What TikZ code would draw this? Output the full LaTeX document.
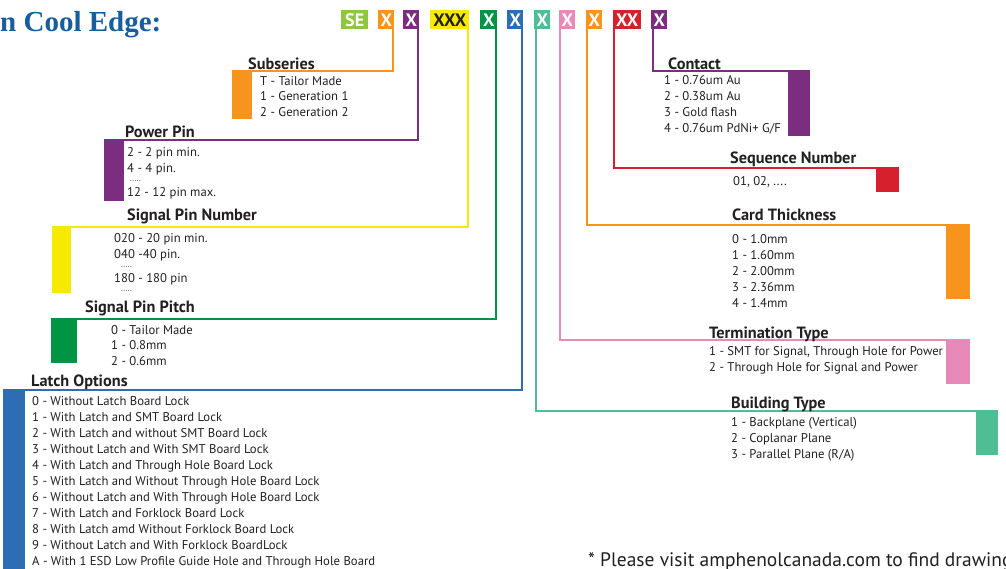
\documentclass[tikz,border=0pt]{standalone}
\usepackage{fontspec}
\setmainfont{PT Sans}
\newfontfamily\headfont{Liberation Serif}

\definecolor{LimeCode}{RGB}{141,198,63}
\definecolor{OrangeCode}{RGB}{247,148,29}
\definecolor{PurpleCode}{RGB}{123,45,127}
\definecolor{YellowCode}{RGB}{245,234,0}
\definecolor{GreenCode}{RGB}{0,148,68}
\definecolor{BlueCode}{RGB}{46,109,180}
\definecolor{TealCode}{RGB}{80,190,148}
\definecolor{PinkCode}{RGB}{231,138,185}
\definecolor{RedCode}{RGB}{215,32,46}
\definecolor{HeadBlue}{RGB}{22,94,158}
\definecolor{InkGrey}{RGB}{35,31,32}

\begin{document}
\begin{tikzpicture}[x=1pt,y=-1pt,
    codebox/.style={anchor=north west,inner sep=0pt,minimum height=19pt,text=white,
      font=\fontsize{18}{18}\selectfont\bfseries},
    tab/.style={anchor=north west,inner sep=0pt,fill=#1},
    link/.style={line width=2pt,#1},
    head/.style={anchor=base west,inner sep=0pt,text=InkGrey,font=\fontsize{16.3}{18}\selectfont\bfseries},
    item/.style={anchor=base west,inner sep=0pt,text=InkGrey,font=\fontsize{12.7}{16}\selectfont},
    dots/.style={anchor=base west,inner sep=0pt,text=InkGrey,font=\fontsize{8}{8}\selectfont}]

  \useasboundingbox (0,0) rectangle (1006,568);

  \node[anchor=base west,inner sep=0pt,text=HeadBlue,font=\headfont\bfseries\fontsize{29}{30}\selectfont]
    (heading) at (0,31) {n Cool Edge:};

  \node[codebox,fill=LimeCode,minimum width=27pt] (cSE) at (341,10) {SE};
  \node[codebox,fill=OrangeCode,minimum width=16pt] (cSub) at (378,10) {X};
  \node[codebox,fill=PurpleCode,minimum width=16pt] (cPow) at (403,10) {X};
  \node[codebox,fill=YellowCode,minimum width=39pt,text=InkGrey] (cSig) at (430,10) {XXX};
  \node[codebox,fill=GreenCode,minimum width=17pt] (cPitch) at (480,10) {X};
  \node[codebox,fill=BlueCode,minimum width=16pt] (cLatch) at (507,10) {X};
  \node[codebox,fill=TealCode,minimum width=16pt] (cBuild) at (534,10) {X};
  \node[codebox,fill=PinkCode,minimum width=16pt] (cTerm) at (559,10) {X};
  \node[codebox,fill=OrangeCode,minimum width=16pt] (cCard) at (586,10) {X};
  \node[codebox,fill=RedCode,minimum width=28pt] (cSeq) at (613,10) {XX};
  \node[codebox,fill=PurpleCode,minimum width=16pt] (cCont) at (651,10) {X};

  \node[tab=OrangeCode,minimum width=20pt,minimum height=49pt] (tSub) at (232,70) {};
  \draw[link=OrangeCode] ([xshift=-1.5pt]cSub.south east) |- ([yshift=-1pt]tSub.north west);
  \node[head] (hSub) at (248,69) {Subseries};
  \node[item] (sub0) at (260,85) {T - Tailor Made};
  \node[item] (sub1) at (260,100.5) {1 - Generation 1};
  \node[item] (sub2) at (260,116) {2 - Generation 2};

  \node[tab=PurpleCode,minimum width=20pt,minimum height=62pt] (tPow) at (104,139) {};
  \draw[link=PurpleCode] ([xshift=-1pt]cPow.south east) |- ([yshift=-1pt]tPow.north west);
  \node[head] (hPow) at (125,137) {Power Pin};
  \node[item] (pow0) at (127,156) {2 - 2 pin min.};
  \node[item] (pow1) at (127,172) {4 - 4 pin.};
  \node[dots] (powDots) at (130,181) {.....};
  \node[item] (pow2) at (127,196) {12 - 12 pin max.};

  \node[tab=YellowCode,minimum width=19pt,minimum height=67pt] (tSig) at (52,226) {};
  \draw[link=YellowCode] ([xshift=-1pt]cSig.south east) |- ([yshift=-1pt]tSig.north west);
  \node[head] (hSig) at (127,220.5) {Signal Pin Number};
  \node[item] (sig0) at (114,242.5) {020 - 20 pin min.};
  \node[item] (sig1) at (114,258.5) {040 -40 pin.};
  \node[dots] (sigDots1) at (121,267.5) {.....};
  \node[item] (sig2) at (114,282.5) {180 - 180 pin};
  \node[dots] (sigDots2) at (121,291.5) {.....};

  \node[tab=GreenCode,minimum width=26pt,minimum height=45pt] (tPitch) at (51,318) {};
  \draw[link=GreenCode] ([xshift=-1pt]cPitch.south east) |- ([yshift=-1pt]tPitch.north west);
  \node[head] (hPitch) at (85,312.5) {Signal Pin Pitch};
  \node[item] (pitch0) at (111,334) {0 - Tailor Made};
  \node[item] (pitch1) at (111,349.5) {1 - 0.8mm};
  \node[item] (pitch2) at (111,365) {2 - 0.6mm};

  \node[tab=BlueCode,minimum width=22pt,minimum height=180pt] (tLatch) at (3,389) {};
  \draw[link=BlueCode] ([xshift=-1pt]cLatch.south east) |- ([yshift=-1pt]tLatch.north west);
  \node[head] (hLatch) at (31,386) {Latch Options};
  \foreach \txt [count=\k from 0] in {0 - Without Latch Board Lock,
      1 - With Latch and SMT Board Lock,
      2 - With Latch and without SMT Board Lock,
      3 - Without Latch and With SMT Board Lock,
      4 - With Latch and Through Hole Board Lock,
      5 - With Latch and Without Through Hole Board Lock,
      6 - Without Latch and With Through Hole Board Lock,
      7 - With Latch and Forklock Board Lock,
      8 - With Latch amd Without Forklock Board Lock,
      9 - Without Latch and With Forklock BoardLock,
      A - With 1 ESD Low Profile Guide Hole and Through Hole Board}
    \node[item] (latch\k) at (32,405.7+16*\k) {\txt};

  \node[tab=PurpleCode,minimum width=22pt,minimum height=66pt] (tCont) at (788,70) {};
  \draw[link=PurpleCode] ([xshift=1.5pt]cCont.south west) |- ([yshift=-1pt]tCont.north east);
  \node[head] (hCont) at (668,69) {Contact};
  \node[item] (cont0) at (664,84.3) {1 - 0.76um Au};
  \node[item] (cont1) at (664,100.3) {2 - 0.38um Au};
  \node[item] (cont2) at (664,116.3) {3 - Gold flash};
  \node[item] (cont3) at (664,132.3) {4 - 0.76um PdNi+ G/F};

  \node[tab=RedCode,minimum width=23pt,minimum height=25pt] (tSeq) at (876,167) {};
  \draw[link=RedCode] ([xshift=1pt]cSeq.south west) |- ([yshift=-1pt]tSeq.north east);
  \node[head] (hSeq) at (730,163) {Sequence Number};
  \node[item] (seq0) at (733,185.7) {01, 02, ....};

  \node[tab=OrangeCode,minimum width=24pt,minimum height=75pt] (tCard) at (946,224) {};
  \draw[link=OrangeCode] ([xshift=1pt]cCard.south west) |- ([yshift=-1pt]tCard.north east);
  \node[head] (hCard) at (732,220) {Card Thickness};
  \node[item] (card0) at (732,243.3) {0 - 1.0mm};
  \node[item] (card1) at (732,259.3) {1 - 1.60mm};
  \node[item] (card2) at (732,275.3) {2 - 2.00mm};
  \node[item] (card3) at (732,291.3) {3 - 2.36mm};
  \node[item] (card4) at (732,307.3) {4 - 1.4mm};

  \node[tab=PinkCode,minimum width=24pt,minimum height=45pt] (tTerm) at (946,339) {};
  \draw[link=PinkCode] ([xshift=1pt]cTerm.south west) |- ([yshift=-1pt]tTerm.north east);
  \node[head] (hTerm) at (709,338) {Termination Type};
  \node[item] (term0) at (709,355.7) {1 - SMT for Signal, Through Hole for Power};
  \node[item] (term1) at (709,371.7) {2 - Through Hole for Signal and Power};

  \node[tab=TealCode,minimum width=22pt,minimum height=45pt] (tBuild) at (976,410) {};
  \draw[link=TealCode] ([xshift=1.5pt]cBuild.south west) |- ([yshift=-1pt]tBuild.north east);
  \node[head] (hBuild) at (731,408) {Building Type};
  \node[item] (build0) at (731,426.7) {1 - Backplane (Vertical)};
  \node[item] (build1) at (731,442.7) {2 - Coplanar Plane};
  \node[item] (build2) at (731,458.7) {3 - Parallel Plane (R/A)};

  \node[anchor=base west,inner sep=0pt,text=InkGrey,font=\fontsize{19.5}{20}\selectfont]
    (note) at (588,566) {* Please visit amphenolcanada.com to find drawing};

\end{tikzpicture}
\end{document}
